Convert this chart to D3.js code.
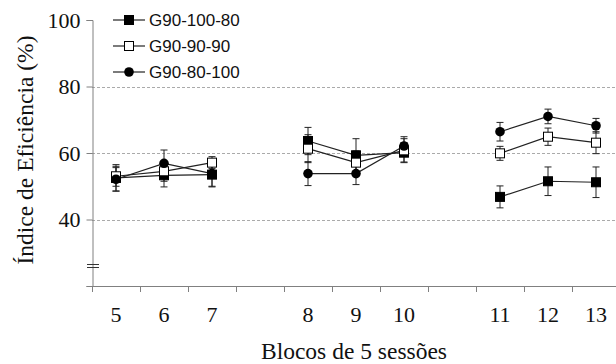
<!DOCTYPE html>
<html>
<head>
<meta charset="utf-8">
<script src="https://cdn.jsdelivr.net/npm/d3@7"></script>
<style>
  body { margin: 0; background: #fff; }
  svg { display: block; }
</style>
</head>
<body>
<svg width="616" height="364"></svg>
<script>
// blocks of 5 sessions, split into three phases (gap slots between them)
const blocks = ['5', '6', '7', 'gap1', '8', '9', '10', 'gap2', '11', '12', '13'];
const phases = [['5', '6', '7'], ['8', '9', '10'], ['11', '12', '13']];
const seriesNames = ['G90-100-80', 'G90-90-90', 'G90-80-100'];

const g100Values = [52.5, 53.3, 53.5, 63.6, 59.3, 60.1, 46.8, 51.5, 51.2];
const g100Errors = [4.0, 3.5, 3.5, 4.1, 5.0, 3.0, 3.3, 4.3, 4.6];
const g90Values = [53.0, 54.5, 57.1, 61.3, 57.1, 60.8, 59.9, 64.9, 63.1];
const g90Errors = [3.0, 3.0, 1.8, 4.2, 3.5, 3.5, 2.1, 2.6, 3.3];
const g80Values = [52.1, 56.9, 53.8, 53.8, 53.8, 62.1, 66.4, 71.0, 68.2];
const g80Errors = [3.5, 4.0, 4.0, 3.6, 3.3, 2.8, 2.8, 2.2, 2.2];

const yTicks = [40, 60, 80, 100];
const gridTicks = [40, 60, 80];

const blockLabels = phases.flat();
const series = [
    { name: seriesNames[0], marker: 'filledSquare', values: g100Values, errors: g100Errors },
    { name: seriesNames[1], marker: 'openSquare', values: g90Values, errors: g90Errors },
    { name: seriesNames[2], marker: 'circle', values: g80Values, errors: g80Errors },
];

let svg = d3.select('svg');
const width = 616, height = 364;
const margin = { left: 92, top: 20, bottom: 78 };

let x = d3.scaleBand().domain(blocks).range([margin.left, margin.left + 48 * blocks.length]).paddingInner(0).paddingOuter(0);
let y = d3.scaleLinear().domain([20, 100]).range([height - margin.bottom, margin.top]);

const axisColor = '#808080';
const serif = '"Liberation Serif", "Times New Roman", serif';
const sans = '"Liberation Sans", Arial, sans-serif';

// gridlines
svg.append('g').selectAll('line')
    .data(gridTicks)
    .enter()
    .append('line')
    .attr('x1', margin.left)
    .attr('x2', width)
    .attr('y1', d => Math.round(y(d)) + 0.5)
    .attr('y2', d => Math.round(y(d)) + 0.5)
    .attr('stroke', '#aaa')
    .attr('stroke-width', 1)
    .attr('stroke-dasharray', '3,2');

// y axis
let yAxis = svg.append('g')
    .attr('transform', `translate(${margin.left + 0.5},0)`)
    .call(d3.axisLeft(y).tickValues(yTicks.concat([20])).tickSize(6).tickFormat(d => d === 20 ? '' : d));
yAxis.select('.domain').attr('stroke', axisColor);
yAxis.selectAll('.tick line').attr('stroke', axisColor);
yAxis.selectAll('.tick text')
    .attr('x', -12)
    .attr('font-family', serif)
    .attr('font-size', 22)
    .attr('fill', '#111');

// axis break marks
svg.append('g').selectAll('line')
    .data([0, 3])
    .enter()
    .append('line')
    .attr('x1', margin.left - 5)
    .attr('x2', margin.left + 7)
    .attr('y1', d => 264.5 + d)
    .attr('y2', d => 264.5 + d)
    .attr('stroke', '#333')
    .attr('stroke-width', 1);

// x axis
const xBase = height - margin.bottom;
svg.append('line')
    .attr('x1', margin.left).attr('x2', width)
    .attr('y1', xBase + 0.5).attr('y2', xBase + 0.5)
    .attr('stroke', axisColor);
svg.append('g').selectAll('line')
    .data(blocks)
    .enter()
    .append('line')
    .attr('x1', d => x(d) + 0.5)
    .attr('x2', d => x(d) + 0.5)
    .attr('y1', xBase)
    .attr('y2', xBase + 6)
    .attr('stroke', axisColor);
svg.append('g').selectAll('text')
    .data(blockLabels)
    .enter()
    .append('text')
    .attr('x', d => x(d) + x.bandwidth() / 2)
    .attr('y', 322)
    .attr('text-anchor', 'middle')
    .attr('font-family', serif)
    .attr('font-size', 22)
    .attr('fill', '#111')
    .text(d => d);

// axis titles
svg.append('text')
    .attr('x', 354)
    .attr('y', 359)
    .attr('text-anchor', 'middle')
    .attr('font-family', serif)
    .attr('font-size', 23.5)
    .attr('fill', '#111')
    .text('Blocos de 5 sessões');
svg.append('text')
    .attr('transform', 'translate(33,150) rotate(-90)')
    .attr('text-anchor', 'middle')
    .attr('font-family', serif)
    .attr('font-size', 23.5)
    .attr('fill', '#111')
    .text('Índice de Eficiência (%)');

function drawMarker(sel, type) {
    if (type === 'circle') {
        sel.append('circle').attr('r', 4.8).attr('fill', '#000');
    } else {
        sel.append('rect')
            .attr('x', -4.5).attr('y', -4.5)
            .attr('width', 9).attr('height', 9)
            .attr('fill', type === 'filledSquare' ? '#000' : '#fff')
            .attr('stroke', '#000')
            .attr('stroke-width', 1);
    }
}

let line = d3.line()
    .x(d => x(d.block) + x.bandwidth() / 2)
    .y(d => y(d.value));

let plot = svg.append('g');
series.forEach(s => {
    let pts = blockLabels.map((b, i) => ({ block: b, value: s.values[i], err: s.errors[i] }));
    phases.forEach(ph => {
        plot.append('path')
            .datum(pts.filter(p => ph.includes(p.block)))
            .attr('d', line)
            .attr('fill', 'none')
            .attr('stroke', '#222')
            .attr('stroke-width', 1.2);
    });
    s.points = pts;
});

// error bars
series.forEach(s => {
    let eb = plot.append('g').selectAll('g')
        .data(s.points)
        .enter()
        .append('g')
        .attr('transform', d => `translate(${x(d.block) + x.bandwidth() / 2},0)`);
    eb.append('line')
        .attr('y1', d => y(d.value - d.err))
        .attr('y2', d => y(d.value + d.err))
        .attr('stroke', '#222');
    eb.selectAll('.cap')
        .data(d => [d.value - d.err, d.value + d.err])
        .enter()
        .append('line')
        .attr('x1', -3.5).attr('x2', 3.5)
        .attr('y1', v => y(v)).attr('y2', v => y(v))
        .attr('stroke', '#222');
});

// markers
series.forEach(s => {
    let m = plot.append('g').selectAll('g')
        .data(s.points)
        .enter()
        .append('g')
        .attr('transform', d => `translate(${x(d.block) + x.bandwidth() / 2},${y(d.value)})`);
    drawMarker(m, s.marker);
});

// legend
let legend = svg.append('g').selectAll('g')
    .data(series)
    .enter()
    .append('g')
    .attr('transform', (d, i) => `translate(113,${20 + i * 26})`);
legend.append('line')
    .attr('x1', 0).attr('x2', 32)
    .attr('stroke', '#222').attr('stroke-width', 1.2);
legend.each(function (d) {
    drawMarker(d3.select(this).append('g').attr('transform', 'translate(16,0)'), d.marker);
});
legend.append('text')
    .attr('x', 36)
    .attr('dy', '0.35em')
    .attr('font-family', sans)
    .attr('font-size', 17)
    .attr('fill', '#111')
    .text(d => d.name);
</script>
</body>
</html>
